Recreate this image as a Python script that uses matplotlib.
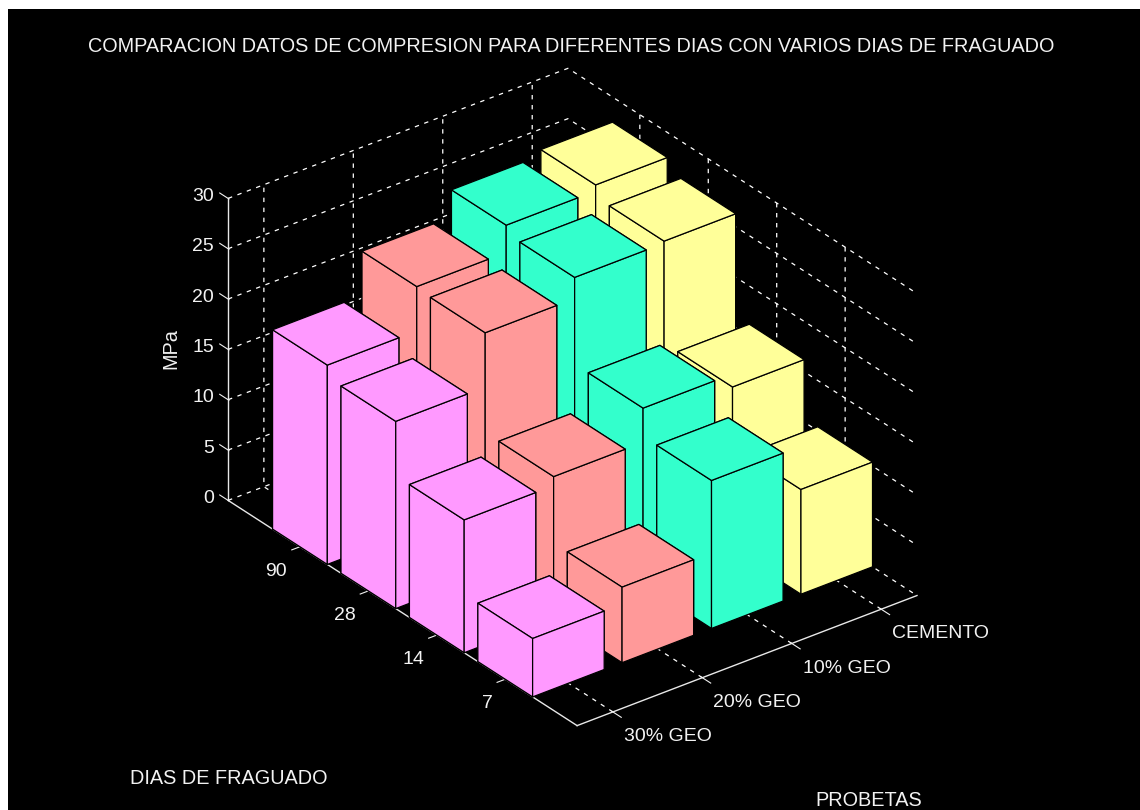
import matplotlib
matplotlib.use("Agg")
import matplotlib.pyplot as plt
from matplotlib.patches import Rectangle

FIG_W = 1140
FIG_H = 810

dias = ["7", "14", "28", "90"]
probetas = ["30% GEO", "20% GEO", "10% GEO", "CEMENTO"]
mpa_ticks = [0, 5, 10, 15, 20, 25, 30]

# one list per probeta, same order as dias
geo30 = [5.8, 13.2, 18.6, 19.8]
geo20 = [7.5, 14.1, 24.0, 24.2]
geo10 = [14.7, 17.5, 26.1, 26.9]
cemento = [10.4, 16.2, 26.3, 27.5]
colores = ["#ff99ff", "#ff9999", "#33ffcc", "#ffff99"]

plt.rcParams["font.family"] = ["Liberation Sans", "DejaVu Sans"]
plt.rcParams["font.size"] = 14
plt.rcParams["grid.color"] = "white"
plt.rcParams["grid.linewidth"] = 0.9
plt.rcParams["grid.linestyle"] = (0, (3.5, 4.5))


def fig_text(x, y, s, **kw):
    return fig.text(x / FIG_W, 1 - y / FIG_H, s, color="#f2f2f2", ha="center", va="center", **kw)


fig = plt.figure(figsize=(FIG_W / 100, FIG_H / 100), dpi=100, facecolor="white")
fig.add_artist(Rectangle((8 / FIG_W, 0), 1 - 8 / FIG_W, 1 - 9 / FIG_H, transform=fig.transFigure,
                         facecolor="black", edgecolor="none", zorder=-5))

side = 780
ax = fig.add_axes([172 / FIG_W, 12.5 / FIG_H, side / FIG_W, side / FIG_H], projection="3d",
                  proj_type="ortho", computed_zorder=False)
ax.patch.set_visible(False)
ax.view_init(elev=29.8, azim=232.4)
ax.set_box_aspect((429, 572, 348), zoom=0.9897)

series = [geo30, geo20, geo10, cemento]
orden = 1
for i in reversed(range(len(series))):
    for j in reversed(range(len(dias))):
        ax.bar3d(i + 1 - 0.4, j + 1 - 0.4, 0, 0.8, 0.8, series[i][j], color=colores[i],
                 edgecolor="black", linewidth=0.9, shade=False, zorder=orden)
        orden += 1

ax.set_xlim(0.6, 4.4, view_margin=0)
ax.set_ylim(-0.05, 5.05, view_margin=0)
ax.set_zlim(0, 30, view_margin=0)
ax.set_xticks([1, 2, 3, 4], probetas, ha="left")
ax.set_yticks([1, 2, 3, 4], dias, ha="right")
ax.set_zticks(mpa_ticks, [str(t) for t in mpa_ticks], ha="right", va="center")
ax.tick_params(colors="#f2f2f2", labelsize=14, width=1.0)
ax.tick_params(axis="x", pad=1)
ax.tick_params(axis="y", pad=3)
ax.tick_params(axis="z", pad=-2)

for axis in (ax.xaxis, ax.yaxis, ax.zaxis):
    axis.set_pane_color((0, 0, 0, 0))
    axis.pane.set_edgecolor("none")
    axis.line.set_color("#e8e8e8")
    axis.line.set_linewidth(1.0)

# at this azimuth x/y ticks point into the box unless the factors are swapped
for axis in (ax.xaxis, ax.yaxis):
    axis._axinfo["tick"]["inward_factor"] = 0.3
    axis._axinfo["tick"]["outward_factor"] = 0.03
ax.zaxis._axinfo["tick"]["inward_factor"] = 0.03
ax.zaxis._axinfo["tick"]["outward_factor"] = 0.3
# z ticks run along y in the original
ax.zaxis._get_tickdir = lambda pos: 1

fig_text(571, 47, "COMPARACION DATOS DE COMPRESION PARA DIFERENTES DIAS CON VARIOS DIAS DE FRAGUADO", fontsize=14.3)
fig_text(229, 779, "DIAS DE FRAGUADO", fontsize=14.3)
fig_text(869, 801, "PROBETAS", fontsize=14.3)
fig_text(171, 349, "MPa", fontsize=14.3, rotation=90)

fig.savefig("out.png", dpi=100, facecolor=fig.get_facecolor())
